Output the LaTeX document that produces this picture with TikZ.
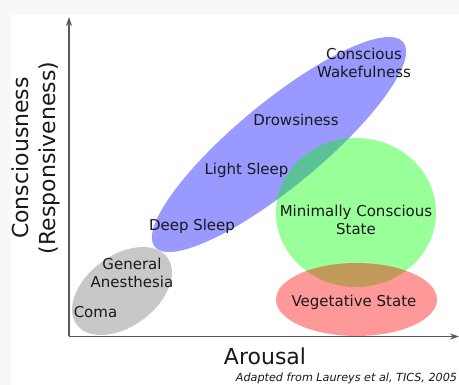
\documentclass[tikz,border=0pt]{standalone}
\usepackage{fontspec}
\setmainfont{DejaVu Sans}
\usepackage{tikz}
\usetikzlibrary{arrows.meta}
\definecolor{pagegray}{RGB}{248,248,248}
\definecolor{axisgray}{RGB}{90,90,90}
\definecolor{comagray}{RGB}{200,200,200}
\definecolor{textdark}{RGB}{25,25,25}
\tikzstyle{state} = [text=textdark, font=\fontsize{15}{18.5}\selectfont, align=center, inner sep=0pt]
\tikzstyle{axislabel} = [text=textdark, font=\fontsize{22}{27}\selectfont, align=center, inner sep=0pt]
\tikzstyle{axis} = [axisgray, line width=1.1pt, -{Stealth[length=9pt,width=6pt]}]
\tikzstyle{region} = [fill opacity=0.4]

\begin{document}
\begin{tikzpicture}[x=1pt, y=-1pt]
            \useasboundingbox (0,0) rectangle (459,385);
            \fill[pagegray] (0,0) rectangle (459,385);
            \fill[white] (11,15) rectangle (459,385);

            \fill[comagray, shift={(122,291)}, rotate=36.5] (0,0) ellipse [x radius=56.4pt, y radius=35.4pt];
            \fill[region, blue, shift={(279,144.5)}, rotate=39.5] (0,0) ellipse [x radius=161pt, y radius=42.4pt];
            \fill[region, green] (356,212.5) ellipse [x radius=80pt, y radius=74.5pt];
            \fill[region, red] (356.5,299.5) ellipse [x radius=80.5pt, y radius=36.5pt];

            \coordinate (origin) at (69,336.5);
            \coordinate (ytip) at (69,17);
            \coordinate (xtip) at (459,336.5);
            \draw [axis] (origin) -- (ytip);
            \draw [axis] (origin) -- (xtip);

            \node (wake) [state] at (364,63) {Conscious\\Wakefulness};
            \node (drowsy) [state] at (296,119.5) {Drowsiness};
            \node (light) [state] at (246.5,170) {Light Sleep};
            \node (deep) [state] at (192,226.5) {Deep Sleep};
            \node (mcs) [state] at (356,220) {Minimally Conscious\\State};
            \node (anesth) [state] at (132,273) {General\\Anesthesia};
            \node (coma) [state] at (95.5,312.5) {Coma};
            \node (veg) [state] at (354,302) {Vegetative State};

            \node (yname) [axislabel, rotate=90] at (35.5,158) {Consciousness\\(Responsiveness)};
            \node (xname) [axislabel] at (265,356) {Arousal};
            \node (source) [text=textdark, font=\fontsize{11.2}{13}\selectfont\itshape, inner sep=0pt] at (346.5,378) {Adapted from Laureys et al, TICS, 2005};
        \end{tikzpicture}
\end{document}
